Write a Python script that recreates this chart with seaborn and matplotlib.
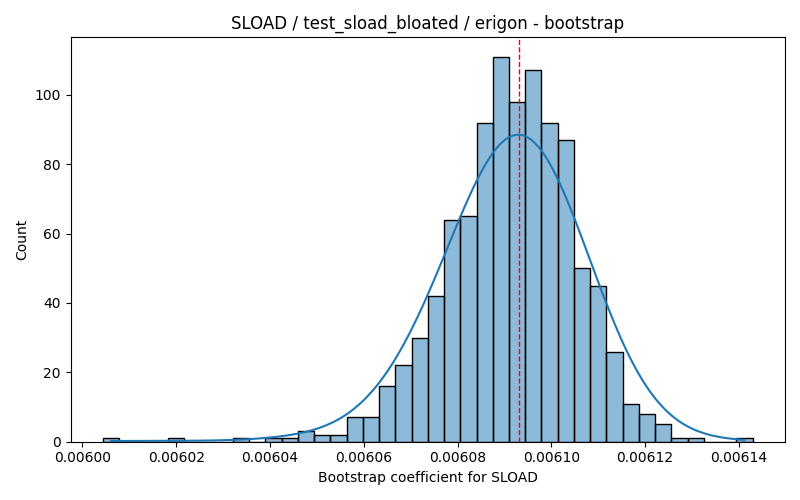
import numpy as np
import matplotlib
matplotlib.use("Agg")
import matplotlib.pyplot as plt
import seaborn as sns

# histogram: 40 bins
bin_lo = 0.0060044
bin_hi = 0.0061429
counts = [1, 0, 0, 0, 1, 0, 0, 0, 1, 0,
          1, 1, 3, 2, 2, 7, 7, 16, 22, 30,
          42, 64, 65, 92, 111, 98, 107, 92, 87, 50,
          45, 26, 11, 8, 5, 1, 1, 0, 0, 1]
mean_coef = 0.006093

edges = np.linspace(bin_lo, bin_hi, len(counts) + 1)
centers = (edges[:-1] + edges[1:]) / 2

fig, ax = plt.subplots(figsize=(8, 5), dpi=100)
sns.histplot(x=centers, weights=counts, bins=len(counts), binrange=(bin_lo, bin_hi),
             kde=True, ax=ax, edgecolor="black")
ax.axvline(mean_coef, color="red", linestyle="--", linewidth=1)
ax.set_title("SLOAD / test_sload_bloated / erigon - bootstrap")
ax.set_xlabel("Bootstrap coefficient for SLOAD")
ax.set_ylabel("Count")
fig.tight_layout()
fig.savefig("out.png")
